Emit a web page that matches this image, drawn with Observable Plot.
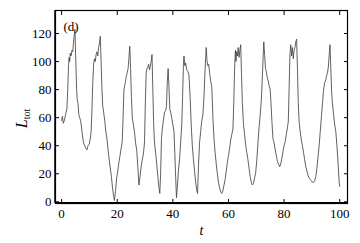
<!DOCTYPE html>
<html><head><meta charset="utf-8">
<script src="https://cdn.jsdelivr.net/npm/d3@7"></script>
<script src="https://cdn.jsdelivr.net/npm/@observablehq/plot@0.6"></script>
<style>body{margin:0;background:#fff}#c{position:relative}</style>
</head><body><div id="c"></div>
<script>
const tValues = [0,0.3,0.6,1.0,1.5,1.9,2.2,2.5,2.7,2.9,3.1,3.4,3.7,4.0,4.2,4.5,4.8,5.1,5.4,5.6,5.9,6.2,6.5,6.8,7.1,7.5,7.9,8.3,8.7,9.1,9.5,9.9,10.3,10.6,10.9,11.2,11.5,11.8,12.1,12.4,12.7,13.0,13.3,13.6,13.9,14.2,14.5,14.8,15.1,15.5,15.9,16.3,16.7,17.1,17.5,17.9,18.3,18.7,19.0,19.4,19.8,20.2,20.6,21.0,21.4,21.8,22.1,22.4,22.7,23.0,23.3,23.6,23.9,24.2,24.5,24.8,25.1,25.4,25.8,26.2,26.6,27.0,27.4,27.8,28.2,28.6,29.0,29.4,29.8,30.1,30.4,30.7,31.0,31.3,31.6,31.9,32.2,32.5,32.8,33.1,33.4,33.8,34.2,34.6,35.0,35.3,35.6,35.9,36.2,36.6,37.0,37.4,37.7,38.0,38.3,38.6,38.9,39.2,39.6,40.0,40.4,40.7,41.0,41.3,41.6,42.0,42.4,42.8,43.2,43.5,43.8,44.0,44.3,44.6,45.0,45.4,45.8,46.2,46.6,47.0,47.4,47.8,48.2,48.6,48.9,49.2,49.6,50.0,50.4,50.8,51.2,51.6,52.0,52.3,52.6,52.9,53.2,53.6,54.0,54.4,54.8,55.2,55.6,56.0,56.4,56.8,57.2,57.6,58.0,58.4,58.8,59.2,59.6,60.0,60.4,60.8,61.2,61.6,61.9,62.2,62.5,62.7,62.9,63.2,63.5,63.8,64.1,64.4,64.7,65.0,65.4,65.8,66.2,66.6,67.0,67.4,67.8,68.2,68.6,69.0,69.4,69.8,70.2,70.6,71.0,71.4,71.8,72.1,72.4,72.7,73.0,73.3,73.6,74.0,74.3,74.6,75.0,75.3,75.6,76.0,76.4,76.8,77.2,77.6,78.0,78.4,78.8,79.2,79.6,80.0,80.4,80.8,81.2,81.5,81.8,82.1,82.4,82.7,83.0,83.3,83.6,83.9,84.2,84.5,84.8,85.1,85.4,85.8,86.2,86.6,87.0,87.4,87.8,88.2,88.6,89.0,89.4,89.8,90.2,90.6,91.0,91.4,91.8,92.2,92.6,93.0,93.4,93.8,94.2,94.6,95.0,95.3,95.6,95.9,96.2,96.5,96.8,97.1,97.4,97.8,98.2,98.6,99.0,99.4,99.8,100.0];
const LValues = [58,61,56,58,63,66,80,98,103,100,106,104,108,107,112,118,123,100,80,73,70,62,60,58,54,47,42,40,38,37,40,41,45,50,65,85,98,102,100,105,107,104,110,113,118,100,80,68,64,58,50,45,37,30,24,18,10,4,1,8,17,22,28,33,38,43,60,80,83,86,90,92,95,102,111,95,75,60,55,50,42,37,25,12,18,25,30,34,42,70,92,95,96,98,94,97,100,105,80,55,42,35,27,18,10,6,20,45,52,58,64,65,68,85,95,82,66,64,60,55,50,35,18,3,10,22,30,42,55,75,98,104,97,99,94,93,90,75,55,40,30,22,14,8,6,25,42,50,58,62,75,95,110,100,97,98,92,86,82,60,45,35,27,20,14,10,7,6,8,12,16,22,28,33,38,44,48,52,70,95,108,100,107,104,110,103,108,112,90,70,55,48,40,35,30,24,18,14,12,13,17,21,30,42,53,62,72,85,100,114,105,95,93,88,86,83,80,70,58,45,42,37,33,29,27,25,27,31,36,40,43,48,53,57,80,105,112,104,110,102,108,110,114,116,95,70,57,50,44,40,35,30,25,22,19,17,16,15,14,14,15,18,24,32,40,50,60,70,80,85,87,90,92,96,104,112,95,78,70,62,55,50,40,28,14,11];
const xTicks = [0,20,40,60,80,100];
const yTicks = [0,20,40,60,80,100,120];
const panelLabel = ["(d)"];
const xLabel = ["t"];

const data = tValues.map((t,i)=>({t, L: LValues[i]}));
const font = "'Liberation Serif','DejaVu Serif',serif";

const chart = Plot.plot({
  width: 360, height: 243,
  marginLeft: 55, marginTop: 10, marginRight: 13, marginBottom: 40,
  style: {fontFamily: font, fontSize: "13px", color: "#000", background: "#fff"},
  x: {domain: [-2.2, 102.8]},
  y: {domain: [-1.2, 136.4]},
  marks: [
    Plot.line(data, {x: "t", y: "L", stroke: "#444", strokeWidth: 0.85}),
    Plot.frame({stroke: "#000", strokeWidth: 1.2}),
    Plot.axisX(xTicks, {anchor: "bottom", tickSize: -4, text: null, label: null, strokeWidth: 1}),
    Plot.axisX(xTicks, {anchor: "top", tickSize: -4, text: null, label: null, strokeWidth: 1}),
    Plot.axisY(yTicks, {anchor: "left", tickSize: -4, text: null, label: null, strokeWidth: 1}),
    Plot.axisY(yTicks, {anchor: "right", tickSize: -4, text: null, label: null, strokeWidth: 1}),
    Plot.axisX(xTicks, {anchor: "bottom", tickSize: 0, tickPadding: 5, label: null, fontSize: 13}),
    Plot.axisY(yTicks, {anchor: "left", tickSize: 0, tickPadding: 4, label: null, fontSize: 13}),
    Plot.text(panelLabel, {frameAnchor: "top-left", dx: 8, dy: 11, fontSize: 13, fill: "#000"}),
    Plot.text(xLabel, {frameAnchor: "bottom", dy: 31, fontSize: 14, fontStyle: "italic", fill: "#000"})
  ]
});
document.getElementById("c").appendChild(chart);

// bottom and left axis lines drawn heavier, using the plot scales
const sx = chart.scale("x"), sy = chart.scale("y");
const svg = d3.select(chart);
const [x0, x1] = sx.range, [y0, y1] = sy.range;
svg.append("line").attr("x1", x0).attr("x2", x1).attr("y1", y0).attr("y2", y0)
  .attr("stroke", "#000").attr("stroke-width", 2);
svg.append("line").attr("x1", x0).attr("x2", x0).attr("y1", y0).attr("y2", y1)
  .attr("stroke", "#000").attr("stroke-width", 1.5);
// y axis label with subscript
const yl = svg.append("text")
  .attr("transform", `translate(27,${(y0 + y1) / 2 + 12}) rotate(-90)`)
  .attr("text-anchor", "middle")
  .attr("font-family", font).attr("font-size", 16).attr("fill", "#000");
yl.append("tspan").attr("font-style", "italic").text("L");
yl.append("tspan").attr("font-size", 10).attr("dy", 3).text("tot");
</script></body></html>
